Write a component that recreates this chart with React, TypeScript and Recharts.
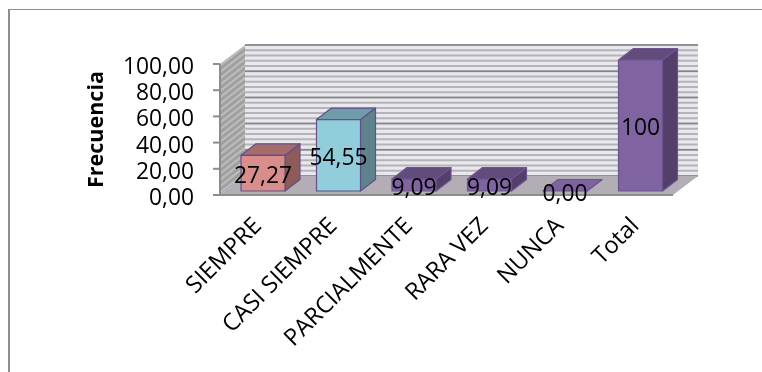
import { Bar, BarChart, LabelList, ReferenceArea, XAxis, YAxis } from "recharts";

const categories = ["SIEMPRE", "CASI SIEMPRE", "PARCIALMENTE", "RARA VEZ", "NUNCA", "Total"];
const frecuencia = [27.27, 54.55, 9.09, 9.09, 0, 100];
const yTicks = [0, 20, 40, 60, 80, 100];
const minorStep = 4;

const barColors = [
  { face: "#d98d8c", top: "#a66c6b", side: "#8c5b5a", edge: "#63508a" },
  { face: "#92cddc", top: "#6f9ca8", side: "#5e838d", edge: "#63508a" },
  { face: "#8064a2", top: "#624c7c", side: "#533f69", edge: "#6d5490" },
  { face: "#8064a2", top: "#624c7c", side: "#533f69", edge: "#6d5490" },
  { face: "#8064a2", top: "#7d649e", side: "#533f69", edge: "#6d5490" },
  { face: "#8064a2", top: "#624c7c", side: "#533f69", edge: "#6d5490" },
];

const data = categories.map((name, i) => ({ name, value: frecuencia[i] }));

const FONT = "'Open Sans', sans-serif";

// 3D box depth of the chart floor and of each column
const WALL_DX = 25;
const WALL_DY = 19;
const BAR_DX = 15;
const BAR_DY = 11.5;
const BAR_SHIFT_X = 5;
const BAR_SHIFT_Y = 4;

const pts = (list: number[][]) => list.map((p) => p.join(",")).join(" ");

const Walls = ({ x, y, width, height }: any) => {
  const bottom = y + height;
  const yAt = (v: number) => bottom - (height * v) / 100;
  const minors: number[] = [];
  for (let v = 0; v <= 100; v += minorStep) minors.push(v);
  return (
    <g>
      <defs>
        <pattern id="hatch" width="5" height="5" patternUnits="userSpaceOnUse" patternTransform="rotate(-38)">
          <rect width="5" height="5" fill="#a0a0a0" />
          <rect width="5" height="2" fill="#bdbdbd" />
        </pattern>
      </defs>
      <polygon
        points={pts([
          [x, bottom],
          [x, y],
          [x + WALL_DX, y - WALL_DY],
          [x + WALL_DX, bottom - WALL_DY],
        ])}
        fill="url(#hatch)"
      />
      <rect x={x + WALL_DX} y={y - WALL_DY} width={width} height={height} fill="#e9e7ef" />
      {minors.map((v) => (
        <line
          key={v}
          x1={x + WALL_DX}
          x2={x + WALL_DX + width}
          y1={yAt(v) - WALL_DY}
          y2={yAt(v) - WALL_DY}
          stroke="#b4b4b4"
          strokeWidth={2}
        />
      ))}
      {yTicks.map((v) => (
        <line
          key={v}
          x1={x + WALL_DX}
          x2={x + WALL_DX + width}
          y1={yAt(v) - WALL_DY}
          y2={yAt(v) - WALL_DY}
          stroke="#868686"
          strokeWidth={1.5}
        />
      ))}
      <polygon
        points={pts([
          [x, bottom],
          [x + width, bottom],
          [x + width + WALL_DX, bottom - WALL_DY],
          [x + WALL_DX, bottom - WALL_DY],
        ])}
        fill="#b3aeb5"
      />
      <line x1={x} x2={x + width} y1={bottom} y2={bottom} stroke="#8c8c8c" strokeWidth={2} />
      <line x1={x} x2={x} y1={y} y2={bottom} stroke="#8c8c8c" strokeWidth={2} />
    </g>
  );
};

const Box = ({ x, y, width, height, index }: any) => {
  const c = barColors[index];
  const left = x + BAR_SHIFT_X;
  const right = left + width;
  const top = y - BAR_SHIFT_Y;
  const bottom = top + height;
  return (
    <g stroke={c.edge} strokeWidth={1.2} strokeLinejoin="round">
      <polygon
        points={pts([
          [right, top],
          [right + BAR_DX, top - BAR_DY],
          [right + BAR_DX, bottom - BAR_DY],
          [right, bottom],
        ])}
        fill={c.side}
      />
      <polygon
        points={pts([
          [left, top],
          [left + BAR_DX, top - BAR_DY],
          [right + BAR_DX, top - BAR_DY],
          [right, top],
        ])}
        fill={c.top}
      />
      <rect x={left} y={top} width={width} height={height} fill={c.face} />
    </g>
  );
};

const formatValue = (v: number) => (v === 100 ? "100" : v.toFixed(2).replace(".", ","));

const ValueLabel = ({ x, y, width, height, value }: any) => (
  <text
    x={x + width / 2 + BAR_SHIFT_X}
    y={y + height / 2 - BAR_SHIFT_Y + 1}
    textAnchor="middle"
    dominantBaseline="central"
    fontFamily={FONT}
    fontSize={22.8}
    fill="#000"
  >
    {formatValue(value)}
  </text>
);

const CategoryTick = ({ x, y, payload }: any) => (
  <text
    x={x + 5}
    y={y + 24}
    transform={`rotate(-45 ${x + 5} ${y + 24})`}
    textAnchor="end"
    fontFamily={FONT}
    fontSize={23.5}
    fill="#000"
  >
    {payload.value}
  </text>
);

const App = () => {
  return (
    <>
      <div
        style={{
          position: "fixed",
          left: 8,
          top: 9,
          right: 0,
          bottom: 0,
          borderLeft: "2px solid #8e8e8e",
          borderTop: "1.5px solid #8e8e8e",
        }}
      />
      <div style={{ position: "relative", width: 754, height: 356 }}>
        <BarChart
          width={754}
          height={356}
          data={data}
          margin={{ top: 56, right: 89, bottom: 0, left: 0 }}
        >
          <XAxis
            dataKey="name"
            interval={0}
            height={169}
            axisLine={false}
            tickLine={false}
            tick={<CategoryTick />}
          />
          <YAxis
            width={212}
            domain={[0, 100]}
            ticks={yTicks}
            interval={0}
            tickFormatter={(v: number) => v.toFixed(2).replace(".", ",")}
            axisLine={false}
            tickSize={7}
            tickMargin={19}
            tickLine={{ stroke: "#8c8c8c", strokeWidth: 2 }}
            tick={{ fontFamily: FONT, fontSize: 22.8, fill: "#000", dy: 2 }}
            label={{
              value: "Frecuencia",
              angle: -90,
              position: "insideLeft",
              offset: 87,
              style: { fontFamily: FONT, fontSize: 21.5, fontWeight: 700, fill: "#000", textAnchor: "middle" },
            }}
          />
          <ReferenceArea y1={0} y2={100} shape={<Walls />} ifOverflow="visible" />
          <Bar dataKey="value" barSize={44} isAnimationActive={false} shape={<Box />}>
            <LabelList dataKey="value" content={<ValueLabel />} />
          </Bar>
        </BarChart>
      </div>
    </>
  );
};

export default App;
